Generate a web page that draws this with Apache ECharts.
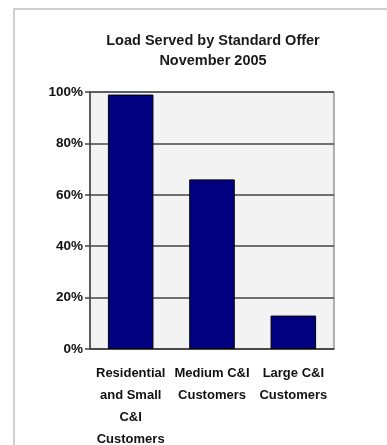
<!DOCTYPE html>
<html>
<head>
<meta charset="utf-8">
<style>
  html, body { margin: 0; padding: 0; background: #fff; }
  #frame { position: absolute; left: 13px; top: 8px; width: 380px; height: 440px;
           border-top: 2px solid #cfcfcf; border-left: 2px solid #cfcfcf; }
  #chart { position: absolute; left: 0; top: 0; width: 387px; height: 445px; }
</style>
<script src="https://cdn.jsdelivr.net/npm/echarts@6/dist/echarts.min.js"></script>
</head>
<body>
<div id="frame"></div>
<div id="chart"></div>
<script>
// Share of load served by standard offer, by customer class
const categories = ['Residential\nand Small\nC&I\nCustomers', 'Medium C&I\nCustomers', 'Large C&I\nCustomers'];
const shareServed = [99, 66, 13];
const yTicks = [0, 20, 40, 60, 80, 100];

const FONT = '"Liberation Sans", Arial, sans-serif';

const chart = echarts.init(document.getElementById('chart'), null, { renderer: 'canvas' });
chart.setOption({
  animation: false,
  title: {
    text: 'Load Served by Standard Offer\nNovember 2005',
    left: 208,
    textAlign: 'center',
    top: 26,
    textStyle: { fontFamily: FONT, fontWeight: 'bold', fontSize: 14.5, lineHeight: 20, color: '#1a1a1a' }
  },
  grid: {
    left: 90, right: 53, top: 92, bottom: 96,
    outerBoundsMode: 'none',
    containLabel: false,
    show: true, backgroundColor: '#f3f3f3', borderColor: '#666', borderWidth: 1
  },
  xAxis: {
    type: 'category',
    data: categories,
    axisLine: { lineStyle: { color: '#444', width: 1.5 } },
    axisTick: { show: false },
    axisLabel: {
      interval: 0, margin: 13,
      fontFamily: FONT, fontWeight: 'bold', fontSize: 13, lineHeight: 22, color: '#111'
    }
  },
  yAxis: {
    type: 'value',
    min: yTicks[0], max: yTicks[yTicks.length - 1], interval: 20,
    axisLine: { show: true, lineStyle: { color: '#444', width: 1.5 } },
    axisTick: { show: true, length: 5, lineStyle: { color: '#444', width: 1.5 } },
    splitLine: { lineStyle: { color: '#444', width: 1.5 } },
    axisLabel: {
      margin: 7,
      formatter: v => v + '%',
      fontFamily: FONT, fontWeight: 'bold', fontSize: 13.5, color: '#111'
    }
  },
  series: [{
    type: 'bar',
    data: shareServed,
    barWidth: '56%',
    itemStyle: { color: '#000080', borderColor: '#000', borderWidth: 1 }
  }]
});
</script>
</body>
</html>
